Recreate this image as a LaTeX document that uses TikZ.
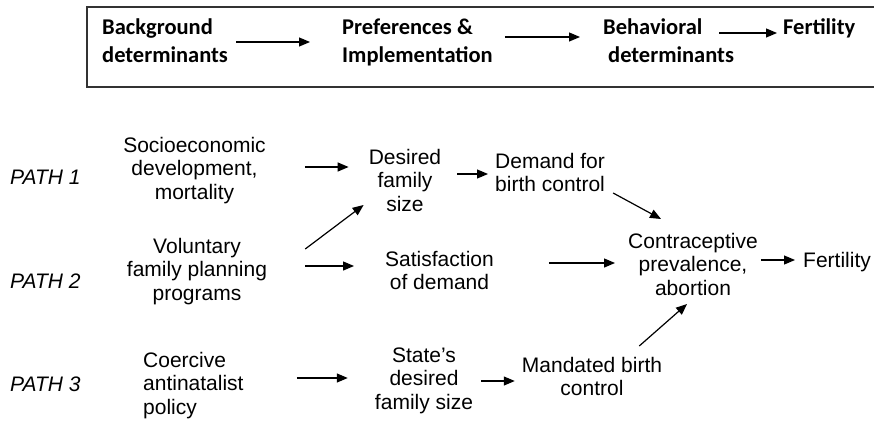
\documentclass[tikz,border=0pt]{standalone}
\usepackage{fontspec}
\setmainfont{Liberation Sans}
\newfontfamily\hdfont{Carlito}
\usetikzlibrary{arrows.meta}

\tikzset{
	arr/.style={-{Triangle[length=11pt,width=9pt]}, line width=1.2pt},
	hd/.style={font=\hdfont\bfseries\fontsize{22.5}{28}\selectfont, inner sep=0pt, align=left, anchor=base west},
	txt/.style={font=\fontsize{21}{23.5}\selectfont, inner sep=0pt, align=center, anchor=base},
	txtl/.style={txt, align=left, anchor=base west},
	pathlbl/.style={font=\itshape\fontsize{21}{23.5}\selectfont, inner sep=0pt, anchor=base west},
}

\begin{document}
\begin{tikzpicture}[x=1pt,y=1pt]
	\useasboundingbox (0,0) rectangle (874,-422);
	\draw [line width=2pt, black!80] (874,-7) -- (87,-7) -- (87,-87) -- (874,-87);

	% top row (base = last line)
	\node [hd] (bg) at (102,-63) {Background\\determinants};
	\node [hd] (pref) at (342,-63) {Preferences \&\\Implementation};
	\node [hd] (behav) at (603,-63) {Behavioral\\\hspace*{5pt}determinants};
	\node [hd] (hfert) at (783,-35) {Fertility};
	\draw [arr] ([shift={(8,21)}]bg.base east) -- ([shift={(-32,21)}]pref.base west);
	\draw [arr] ([shift={(12,26)}]pref.base east) -- ([shift={(-23,26)}]behav.base west);
	\draw [arr] ([shift={(-15,30)}]behav.base east) -- ([shift={(-6,2)}]hfert.base west);

	% paths
	\node [pathlbl] (p1) at (10,-184) {PATH 1};
	\node [pathlbl] (p2) at (10,-288) {PATH 2};
	\node [pathlbl] (p3) at (10,-391) {PATH 3};

	\node [txt] (socio) at (194.5,-199) {Socioeconomic\\development,\\mortality};
	\node [txt] (volun) at (197,-300) {Voluntary\\family planning\\programs};
	\node [txtl] (coerc) at (143,-414) {Coercive\\antinatalist\\policy};
	\node [txt] (desired) at (405,-211) {Desired\\family\\size};
	\node [txt] (satis) at (439.5,-289.5) {Satisfaction\\of demand};
	\node [txt] (state) at (424,-409) {State's\\desired\\family size};
	\node [txtl] (demand) at (495,-191.5) {Demand for\\birth control};
	\node [txt] (contra) at (693,-295) {Contraceptive\\prevalence,\\abortion};
	\node [txt] (mandated) at (592,-395.5) {Mandated birth\\control};
	\node [txtl] (fert) at (803,-267) {Fertility};

	\draw [arr] ([shift={(39,32)}]socio.base east) -- ([shift={(-20,44)}]desired.base west);
	\draw [arr] ([shift={(38,51)}]volun.base east) -- ([shift={(-5,6)}]desired.base west);
	\draw [arr] ([shift={(38,34)}]volun.base east) -- ([shift={(-31,23.5)}]satis.base west);
	\draw [arr] ([shift={(16,37)}]desired.base east) -- ([shift={(-7,17.5)}]demand.base west);
	\draw [arr] ([shift={(55,26.5)}]satis.base east) -- ([shift={(-13,32)}]contra.base west);
	\draw [arr] ([shift={(8,-1.5)}]demand.base east) -- ([shift={(33,76)}]contra.base west);
	\draw [arr] ([shift={(3,35)}]contra.base east) -- ([shift={(-8,7)}]fert.base west);
	\draw [arr] ([shift={(53,36)}]coerc.base east) -- ([shift={(-27,31)}]state.base west);
	\draw [arr] ([shift={(8,28)}]state.base east) -- ([shift={(-7,14.5)}]mandated.base west);
	\draw [arr] ([shift={(-23,49.5)}]mandated.base east) -- ([shift={(59,-9)}]contra.base west);
\end{tikzpicture}
\end{document}
